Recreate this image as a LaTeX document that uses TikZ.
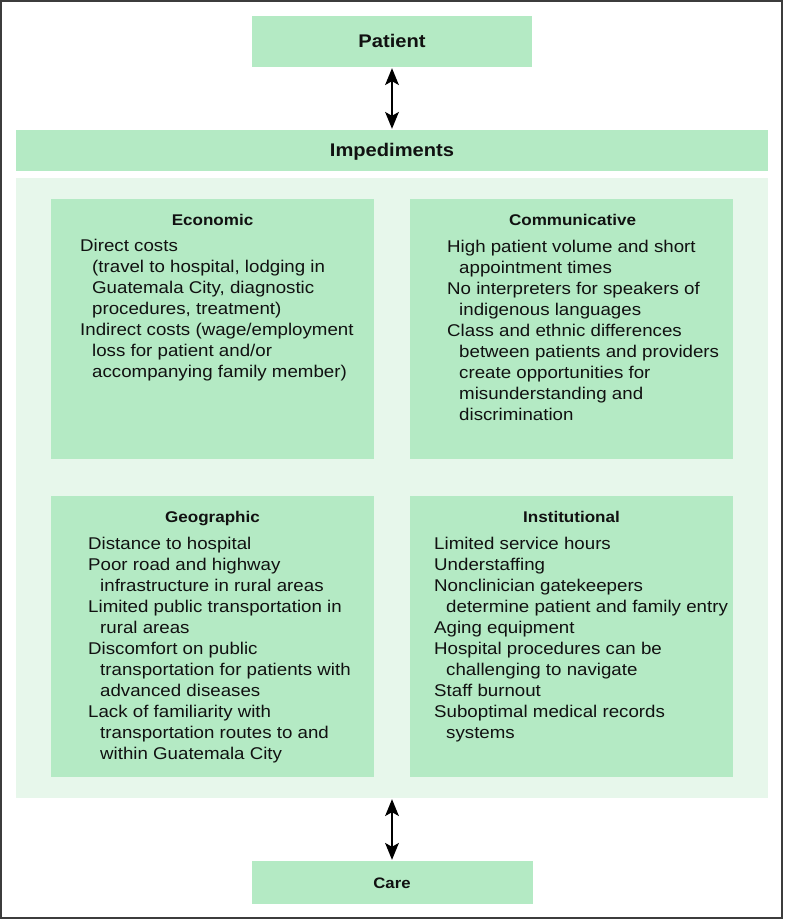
\documentclass[tikz,border=0pt]{standalone}
\usepackage{fontspec}
\setmainfont{Liberation Sans}[FakeStretch=1.1]
\usetikzlibrary{arrows.meta}
\definecolor{boxgreen}{RGB}{180,234,196}
\definecolor{lightgreen}{RGB}{231,247,235}
\definecolor{framegray}{RGB}{60,60,60}
\definecolor{txt}{RGB}{17,17,17}
\newcommand\indt{\hspace*{12pt}}
\begin{document}
\begin{tikzpicture}[x=1pt,y=-1pt,
  gbox/.style={fill=boxgreen, draw=none, inner sep=0},
  headtext/.style={font=\bfseries\fontsize{18.3}{22}\selectfont, text=txt, text height=13pt, text depth=0pt},
  caretext/.style={font=\bfseries\fontsize{15.2}{19}\selectfont, text=txt, text height=11pt, text depth=0pt},
  cattitle/.style={anchor=base, font=\bfseries\fontsize{15.5}{19}\selectfont, text=txt, inner sep=0},
  bodytext/.style={anchor=north west, align=left, inner sep=0, font=\fontsize{17}{21}\selectfont, text=txt},
  dblarrow/.style={-, line width=2.3pt, black, shorten <=10pt, shorten >=10pt},
  headfill/.style={fill=black}]
\useasboundingbox (0,0) rectangle (785,920);
\draw[framegray, line width=2pt] (1,1) rectangle (782,918);

% top and bottom boxes
\node[gbox, headtext, minimum width=280pt, minimum height=51pt] (patient) at (392,41.5) {Patient};
\node[gbox, headtext, minimum width=752pt, minimum height=41pt] (imped) at (392,150.5) {Impediments};
\node[fill=lightgreen, draw=none, inner sep=0, minimum width=752pt, minimum height=620pt] (impbg) at (392,488) {};
\node[gbox, caretext, minimum width=281pt, minimum height=43pt] (care) at (392,882.5) {Care};

% category boxes
\node[gbox, minimum width=323pt, minimum height=260pt] (econ) at (212.5,329) {};
\node[gbox, minimum width=323pt, minimum height=260pt] (comm) at (571.5,329) {};
\node[gbox, minimum width=323pt, minimum height=281pt] (geo) at (212.5,636.5) {};
\node[gbox, minimum width=323pt, minimum height=281pt] (inst) at (571.5,636.5) {};

% titles
\node[cattitle] (econT) at (212.5,225) {Economic};
\node[cattitle] (commT) at (572.5,225) {Communicative};
\node[cattitle] (geoT) at (212.5,522.7) {Geographic};
\node[cattitle] (instT) at (571.5,522.7) {Institutional};

% body texts
\node[bodytext] (econB) at (80,239.3) {Direct costs\\
\indt(travel to hospital, lodging in\\
\indt Guatemala City, diagnostic\\
\indt procedures, treatment)\\
Indirect costs (wage/employment\\
\indt loss for patient and/or\\
\indt accompanying family member)};

\node[bodytext] (commB) at (447,239.6) {High patient volume and short\\
\indt appointment times\\
No interpreters for speakers of\\
\indt indigenous languages\\
Class and ethnic differences\\
\indt between patients and providers\\
\indt create opportunities for\\
\indt misunderstanding and\\
\indt discrimination};

\node[bodytext] (geoB) at (88,536.9) {Distance to hospital\\
Poor road and highway\\
\indt infrastructure in rural areas\\
Limited public transportation in\\
\indt rural areas\\
Discomfort on public\\
\indt transportation for patients with\\
\indt advanced diseases\\
Lack of familiarity with\\
\indt transportation routes to and\\
\indt within Guatemala City};

\node[bodytext] (instB) at (434,536.9) {Limited service hours\\
Understaffing\\
Nonclinician gatekeepers\\
\indt determine patient and family entry\\
Aging equipment\\
Hospital procedures can be\\
\indt challenging to navigate\\
Staff burnout\\
Suboptimal medical records\\
\indt systems};

% connectors (shaft plus filled heads)
\draw[dblarrow] (patient.south) -- (imped.north);
\draw[dblarrow] (impbg.south) -- (care.north);
\fill[headfill] ([yshift=-1pt]patient.south) -- ++(-7,17) -- ++(7,-4) -- ++(7,4) -- cycle;
\fill[headfill] ([yshift=1pt]imped.north) -- ++(-7,-17) -- ++(7,4) -- ++(7,-4) -- cycle;
\fill[headfill] ([yshift=-1pt]impbg.south) -- ++(-7,17) -- ++(7,-4) -- ++(7,4) -- cycle;
\fill[headfill] ([yshift=1pt]care.north) -- ++(-7,-17) -- ++(7,4) -- ++(7,-4) -- cycle;
\end{tikzpicture}
\end{document}
